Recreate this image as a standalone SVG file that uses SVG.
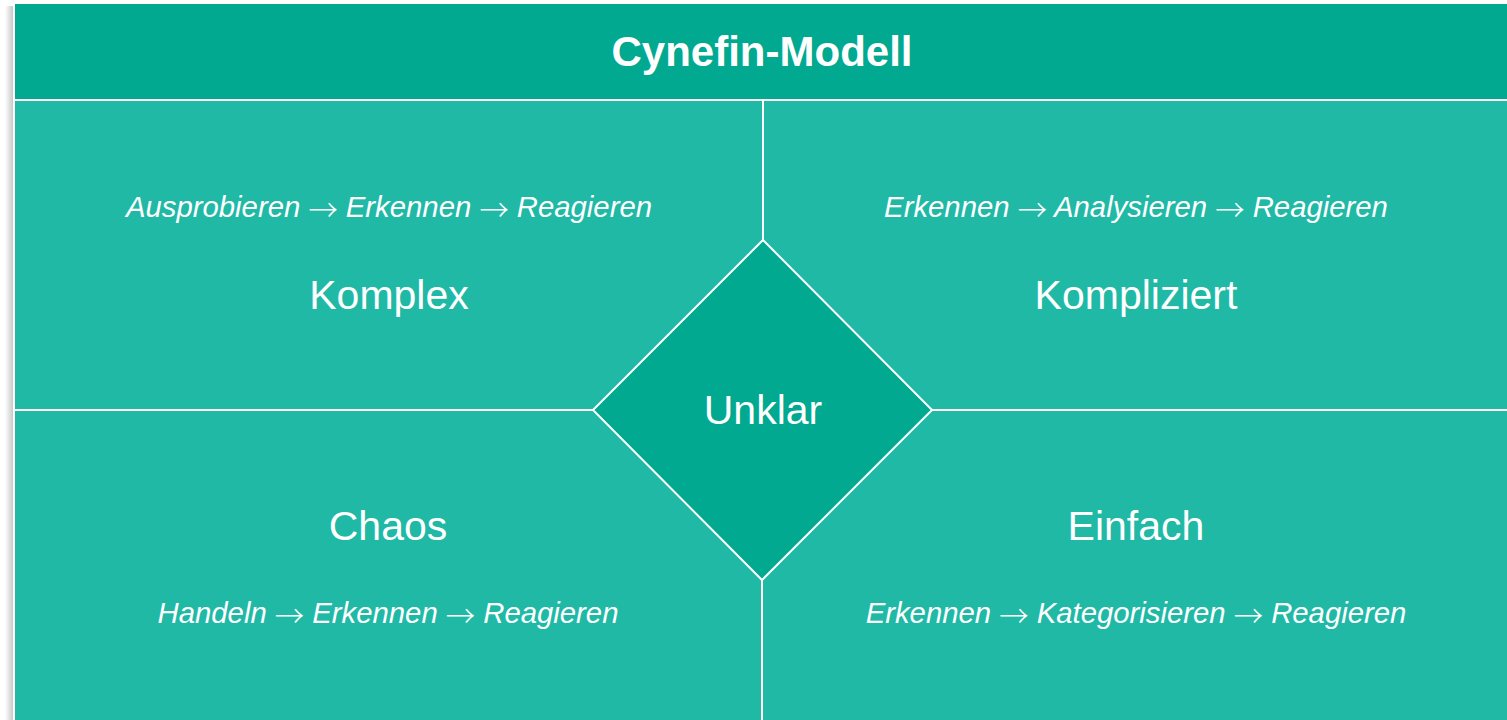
<svg xmlns="http://www.w3.org/2000/svg" width="1507" height="720" viewBox="0 0 1507 720">
<defs>
<linearGradient id="sh" x1="0" y1="0" x2="1" y2="0">
<stop offset="0" stop-color="#ffffff"/>
<stop offset="1" stop-color="#c8c8c8"/>
</linearGradient>
<style>
.q{fill:#1fb9a6}
.ln{stroke:#ffffff;stroke-width:2;fill:none}
.t{font-family:"Liberation Sans",Arial,sans-serif;fill:#ffffff;text-anchor:middle}
.title{font-size:42px;font-weight:bold}
.big{font-size:41px}
.sub{font-size:29.3px;font-style:italic}
.ar{font-family:"Noto Sans CJK SC",sans-serif;font-style:normal;font-weight:300;font-size:29.3px}
</style>
</defs>
<rect width="1507" height="720" fill="#ffffff"/>
<rect x="5" y="6" width="8" height="714" fill="url(#sh)"/>
<g id="header">
<rect x="15" y="4" width="1492" height="95" fill="#00a98f"/>
<text class="t title" x="762" y="66">Cynefin-Modell</text>
</g>
<rect x="15" y="99" width="1492" height="2" fill="#ffffff"/>
<g id="komplex">
<rect class="q" x="15" y="101" width="748" height="309"/>
<text class="t sub" x="389" y="217">Ausprobieren <tspan class="ar" dy="4">→</tspan><tspan dy="-4"> Erkennen </tspan><tspan class="ar" dy="4">→</tspan><tspan dy="-4"> Reagieren</tspan></text>
<text class="t big" x="389" y="309">Komplex</text>
</g>
<g id="kompliziert">
<rect class="q" x="763" y="101" width="744" height="309"/>
<text class="t sub" x="1136" y="217">Erkennen <tspan class="ar" dy="4">→</tspan><tspan dy="-4"> Analysieren </tspan><tspan class="ar" dy="4">→</tspan><tspan dy="-4"> Reagieren</tspan></text>
<text class="t big" x="1136" y="309">Kompliziert</text>
</g>
<g id="chaos">
<rect class="q" x="15" y="410" width="748" height="310"/>
<text class="t big" x="388" y="540">Chaos</text>
<text class="t sub" x="388" y="623">Handeln <tspan class="ar" dy="4">→</tspan><tspan dy="-4"> Erkennen </tspan><tspan class="ar" dy="4">→</tspan><tspan dy="-4"> Reagieren</tspan></text>
</g>
<g id="einfach">
<rect class="q" x="763" y="410" width="744" height="310"/>
<text class="t big" x="1136" y="540">Einfach</text>
<text class="t sub" x="1136" y="623">Erkennen <tspan class="ar" dy="4">→</tspan><tspan dy="-4"> Kategorisieren </tspan><tspan class="ar" dy="4">→</tspan><tspan dy="-4"> Reagieren</tspan></text>
</g>
<g id="connectors">
<line class="ln" x1="763" y1="100" x2="763" y2="240"/>
<line class="ln" x1="762" y1="580" x2="762" y2="720"/>
<line class="ln" x1="15" y1="410" x2="593" y2="410"/>
<line class="ln" x1="932" y1="410" x2="1507" y2="410"/>
</g>
<g id="unklar">
<polygon points="763,240 932,410 762,580 593,410" fill="#00a98f" stroke="#ffffff" stroke-width="2"/>
<text class="t big" x="763" y="424">Unklar</text>
</g>
</svg>
